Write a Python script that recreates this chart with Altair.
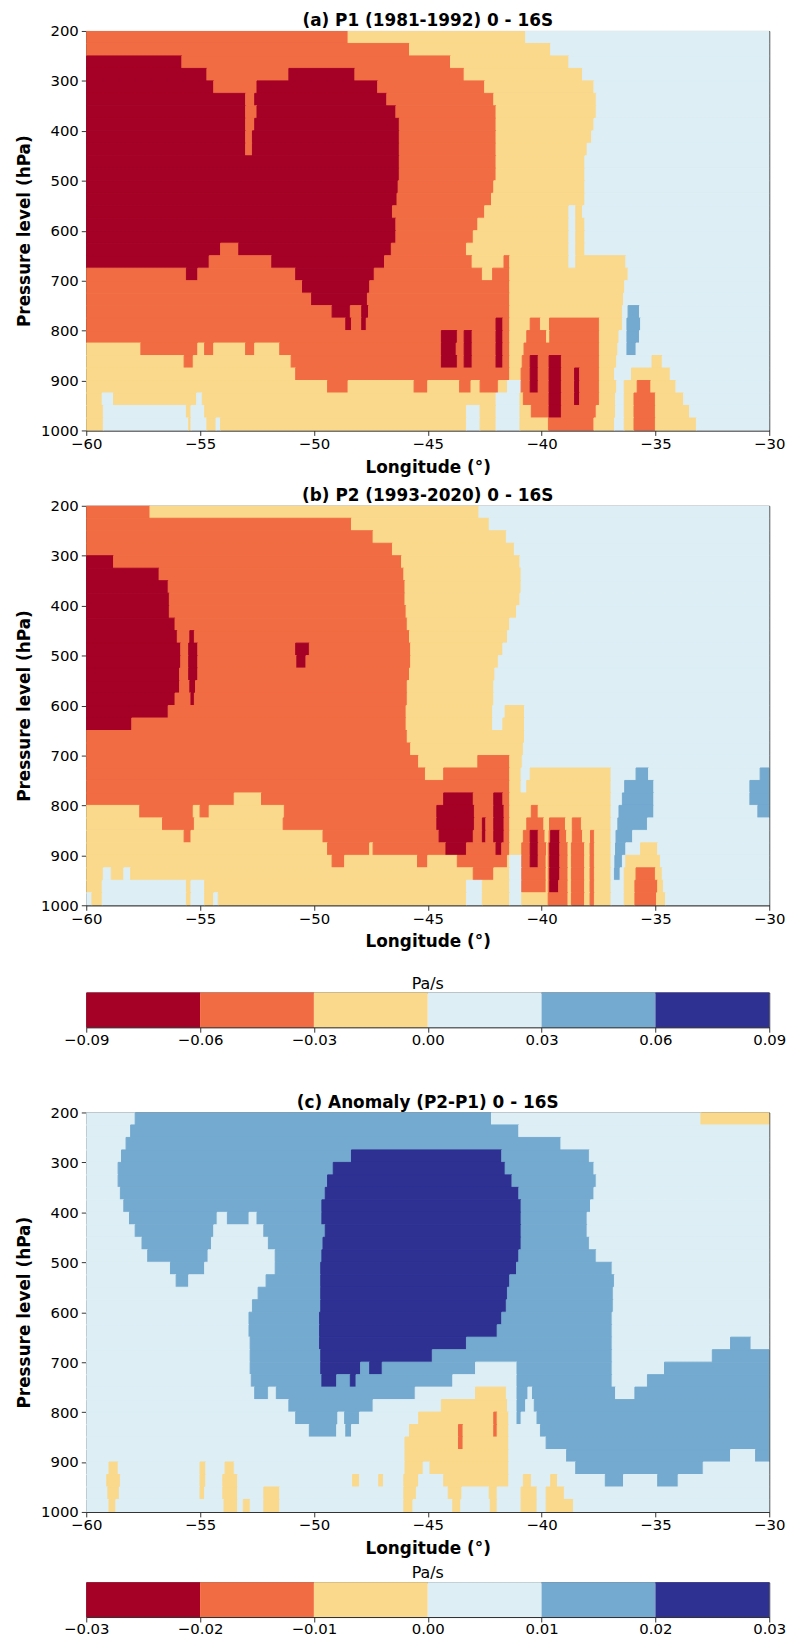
import altair as alt
import pandas as pd

LON = [-60, -30]
P_RANGE = [200, 1000]
ROW_STEP = 25
LON_TICKS = [-60, -55, -50, -45, -40, -35, -30]
P_TICKS = [200, 300, 400, 500, 600, 700, 800, 900, 1000]

LEVELS_P = [-0.09, -0.06, -0.03, 0.00, 0.03, 0.06, 0.09]
LEVELS_ANOM = [-0.03, -0.02, -0.01, 0.00, 0.01, 0.02, 0.03]
CLASS_KEYS = ["R", "O", "Y", "L", "B", "N"]
COLORS = ["#a50026", "#f16c43", "#fad98c", "#ddeef5", "#74aacf", "#2e3192"]

TITLES = ["(a) P1 (1981-1992) 0 - 16S", "(b) P2 (1993-2020) 0 - 16S",
          "(c) Anomaly (P2-P1) 0 - 16S"]

# each row = one 25 hPa layer (200-225, 225-250, ...); tokens = class letter + longitude where it starts
P1_ROWS = [
    "O-60 Y-48.5 L-40.7",
    "O-60 Y-45.8 L-39.6",
    "R-60 O-55.8 Y-44.0 L-38.8",
    "R-60 O-54.7 R-51.1 O-48.2 Y-43.4 L-38.2",
    "R-60 O-54.4 R-52.5 O-47.2 Y-42.5 L-37.7",
    "R-60 O-53.0 R-52.6 O-46.8 Y-42.1 L-37.6",
    "R-60 O-53.0 R-52.5 O-46.4 Y-42.0 L-37.6",
    "R-60 O-53.0 R-52.6 O-46.25 Y-42.0 L-37.7",
    "R-60 O-53.0 R-52.7 O-46.25 Y-42.0 L-37.8",
    "R-60 O-53.0 R-52.7 O-46.25 Y-42.0 L-38.0",
    "R-60 O-46.25 Y-42.0 L-38.1",
    "R-60 O-46.25 Y-42.0 L-38.1",
    "R-60 O-46.3 Y-42.1 L-38.1",
    "R-60 O-46.35 Y-42.2 L-38.1",
    "R-60 O-46.55 Y-42.5 L-38.8 Y-38.5 L-38.2",
    "R-60 O-46.4 Y-42.8 L-38.8 Y-38.5 L-38.1",
    "R-60 O-46.4 Y-43.0 L-38.8 Y-38.5 L-38.1",
    "R-60 O-54.1 R-53.3 O-46.6 Y-43.3 L-38.8 Y-38.5 L-38.1",
    "R-60 O-54.6 R-51.85 O-46.9 Y-43.05 O-41.65 Y-41.4 L-38.8 Y-38.5 L-36.3",
    "O-60 R-55.6 O-55.1 R-50.8 O-47.35 Y-42.6 O-42.15 Y-41.4 L-36.2",
    "O-60 R-50.5 O-47.55 Y-41.4 L-36.35",
    "O-60 R-50.1 O-47.65 Y-41.4 L-36.4",
    "O-60 R-49.2 O-48.4 R-47.9 O-47.6 Y-41.4 L-36.45 B-36.2 L-35.7",
    "O-60 R-48.6 O-48.35 R-47.9 O-47.7 R-42.0 O-41.7 Y-41.4 O-40.5 Y-40.05 O-39.65 Y-37.46 L-36.45 B-36.25 L-35.65",
    "O-60 R-44.4 O-43.7 R-43.4 O-43.05 R-42.0 O-41.7 Y-41.4 O-40.65 Y-39.78 O-39.64 Y-37.46 L-36.6 B-36.25 L-35.7",
    "Y-60 O-57.6 Y-55.1 O-54.8 Y-54.4 O-53.0 Y-52.6 O-51.5 R-44.4 O-43.75 R-43.4 O-43.05 R-42.0 O-41.7 Y-41.4 O-40.77 Y-37.46 L-36.65 B-36.25 L-35.85",
    "Y-60 O-55.7 Y-55.3 O-51.0 R-44.4 O-43.7 R-43.4 O-43.05 R-42.0 O-41.7 Y-41.4 O-40.85 R-40.5 O-40.15 R-39.67 O-39.13 Y-37.46 L-36.7 Y-35.15 L-34.7",
    "Y-60 O-50.8 Y-41.4 O-40.9 R-40.5 O-40.15 R-39.67 O-39.13 R-38.55 O-38.33 Y-37.46 L-36.8 Y-36.05 L-34.35",
    "Y-60 O-49.4 Y-48.5 O-45.6 Y-45.0 O-43.6 Y-43.1 O-42.7 Y-41.9 L-41.5 O-40.9 R-40.5 O-40.15 R-39.67 O-39.13 R-38.55 O-38.33 Y-37.46 L-36.7 Y-36.37 O-35.8 Y-35.2 L-34.1",
    "Y-60 L-59.3 Y-58.8 L-55.15 Y-54.9 L-42.0 Y-40.95 O-40.8 R-39.67 O-39.13 R-38.55 O-38.33 Y-37.46 L-36.75 Y-36.37 O-35.94 Y-35.0 L-33.76",
    "Y-60 L-59.25 Y-55.6 L-55.4 Y-54.8 L-43.3 Y-42.7 L-42.0 Y-40.95 O-40.45 R-39.67 O-39.13 Y-37.6 L-36.75 Y-36.37 O-35.94 Y-35.0 L-33.5",
    "Y-60 L-59.25 Y-55.5 L-55.4 Y-54.7 L-54.3 Y-54.1 L-43.3 Y-42.7 L-42.0 Y-40.95 O-39.7 Y-37.7 L-36.8 Y-36.37 O-35.94 Y-35.0 L-33.2",
]

P2_ROWS = [
    "O-60 Y-57.2 L-42.75",
    "O-60 Y-48.35 L-42.3",
    "O-60 Y-47.4 L-41.55",
    "O-60 Y-46.55 L-41.2",
    "R-60 O-58.8 Y-46.15 L-40.95",
    "R-60 O-56.8 Y-46.05 L-40.9",
    "R-60 O-56.4 Y-46.0 L-40.9",
    "R-60 O-56.35 Y-46.0 L-40.95",
    "R-60 O-56.35 Y-45.95 L-41.1",
    "R-60 O-56.1 Y-45.9 L-41.4",
    "R-60 O-56.0 R-55.45 O-55.25 Y-45.8 L-41.5",
    "R-60 O-55.85 R-55.5 O-55.1 R-50.8 O-50.2 Y-45.75 L-41.7",
    "R-60 O-55.85 R-55.5 O-55.1 R-50.75 O-50.35 Y-45.75 L-41.9",
    "R-60 O-55.9 R-55.5 O-55.1 Y-45.8 L-42.05",
    "R-60 O-55.9 R-55.45 O-55.2 Y-45.9 L-42.1",
    "R-60 O-56.1 R-55.4 O-55.25 Y-45.9 L-42.1",
    "R-60 O-56.4 Y-45.95 L-42.15 Y-41.6 L-40.75",
    "R-60 O-58.0 Y-45.95 L-42.15 Y-41.7 L-40.75",
    "O-60 Y-45.9 L-40.75",
    "O-60 Y-45.75 L-40.8",
    "O-60 Y-45.4 O-42.8 Y-41.4 L-40.85",
    "O-60 Y-45.1 O-44.3 Y-41.4 L-40.9 Y-40.5 L-36.95 B-35.85 L-35.3 B-30.4",
    "O-60 Y-41.4 L-40.9 Y-40.65 L-36.95 B-36.35 L-35.07 B-30.85",
    "O-60 Y-53.5 O-52.3 R-44.3 O-43.0 R-42.1 O-41.7 Y-41.4 L-36.95 B-36.45 L-35.07 B-30.85",
    "Y-60 O-57.65 Y-55.3 O-55.0 Y-54.6 O-51.3 R-44.6 O-42.95 R-42.1 O-41.65 Y-41.4 O-40.45 Y-40.15 L-36.95 B-36.6 L-35.07 B-30.5",
    "Y-60 O-56.65 Y-55.25 O-51.35 R-44.6 O-42.95 R-42.6 O-42.45 R-42.1 O-41.65 Y-41.4 O-40.65 Y-39.9 O-39.65 Y-38.95 O-38.65 Y-38.25 L-36.95 B-36.65 L-35.35",
    "Y-60 O-55.7 Y-55.4 O-49.6 R-44.5 O-43.0 R-42.6 O-42.45 R-42.1 O-41.65 Y-41.4 O-40.8 R-40.5 O-40.15 Y-39.85 O-39.67 R-39.6 O-39.2 Y-38.9 O-38.65 Y-38.2 O-37.85 Y-37.68 L-36.95 B-36.73 L-36.0",
    "Y-60 O-49.4 Y-47.55 O-47.4 R-44.2 O-43.3 R-42.0 O-41.75 Y-41.4 O-40.87 R-40.5 O-40.15 Y-39.78 O-39.71 R-39.64 O-39.2 Y-38.84 O-38.69 Y-38.11 O-37.87 Y-37.68 L-36.95 B-36.75 L-36.3 Y-35.65 L-34.9",
    "Y-60 O-49.2 Y-48.65 O-45.45 Y-45.0 O-43.7 Y-41.5 L-41.4 O-40.87 R-40.5 O-40.15 Y-39.8 O-39.71 R-39.64 O-39.2 Y-38.84 O-38.69 Y-38.11 O-37.87 Y-37.68 L-36.95 B-36.78 L-36.45 Y-36.3 L-34.78",
    "Y-60 L-59.25 Y-58.9 L-58.35 Y-58.05 O-43.0 Y-42.1 L-41.4 O-40.87 Y-39.8 O-39.71 R-39.64 O-39.2 Y-38.84 O-38.69 Y-38.11 O-37.87 Y-37.68 L-36.95 B-36.8 L-36.55 Y-36.37 O-35.85 Y-35.0 L-34.7",
    "Y-60 L-59.3 Y-55.6 L-55.4 Y-54.8 L-43.3 Y-42.6 L-41.4 O-40.87 Y-39.8 O-39.71 R-39.64 O-39.25 Y-38.84 O-38.69 Y-38.11 O-37.87 Y-37.68 L-36.95 Y-36.37 O-35.9 Y-34.9 L-34.65",
    "L-60 Y-59.75 L-59.3 Y-55.6 L-55.4 Y-54.8 L-54.4 Y-54.2 L-43.3 Y-42.6 L-41.4 Y-40.87 O-39.71 Y-38.84 O-38.69 Y-38.11 O-37.87 Y-37.68 L-36.95 Y-36.37 O-35.9 Y-34.95 L-34.56",
]

ANOM_ROWS = [
    "L-60 B-57.85 L-42.2 Y-33.0",
    "L-60 B-58.05 L-41.0",
    "L-60 B-58.25 L-39.15",
    "L-60 B-58.45 N-48.35 B-41.75 L-37.9",
    "L-60 B-58.6 N-49.15 B-41.6 L-37.7",
    "L-60 B-58.6 N-49.4 B-41.3 L-37.6",
    "L-60 B-58.5 N-49.5 B-41.0 L-37.7",
    "L-60 B-58.35 N-49.65 B-40.9 L-37.85",
    "L-60 B-58.1 L-54.25 B-53.8 L-52.85 B-52.5 N-49.65 B-40.9 L-38.0",
    "L-60 B-57.85 L-54.4 B-52.2 N-49.5 B-40.9 L-38.0",
    "L-60 B-57.55 L-54.5 B-52.0 N-49.6 B-40.9 L-37.9",
    "L-60 B-57.3 L-54.65 B-51.7 N-49.65 B-41.0 L-37.6",
    "L-60 B-56.3 L-54.8 B-51.7 N-49.7 B-41.1 L-36.9",
    "L-60 B-56.05 L-55.5 B-52.1 N-49.7 B-41.4 L-36.8",
    "L-60 B-52.45 N-49.7 B-41.5 L-36.85",
    "L-60 B-52.7 N-49.7 B-41.55 L-36.85",
    "L-60 B-52.85 N-49.75 B-41.75 L-36.9",
    "L-60 B-52.85 N-49.75 B-41.95 L-36.9",
    "L-60 B-52.8 N-49.75 B-43.3 L-36.9 B-31.7 L-30.8",
    "L-60 B-52.8 N-49.7 B-44.8 L-36.9 B-32.5",
    "L-60 B-52.8 N-49.7 B-47.95 N-47.55 B-47.0 L-42.9 B-41.08 L-36.9 B-34.6",
    "L-60 B-52.75 N-49.65 B-49.0 N-48.4 B-48.15 L-43.9 B-41.08 L-36.9 B-35.35",
    "L-60 B-52.6 L-52.0 B-51.65 L-45.55 Y-42.9 L-41.55 B-41.08 L-40.6 B-40.4 L-36.75 B-35.9",
    "L-60 B-51.1 L-47.4 Y-44.4 L-41.5 B-41.08 L-40.7 B-40.32",
    "L-60 B-50.8 L-48.95 B-48.65 L-48.0 Y-45.4 O-42.1 Y-41.95 L-41.44 B-41.08 L-40.9 B-40.2",
    "L-60 B-50.2 L-49.0 B-48.6 L-48.35 Y-45.8 O-43.65 Y-43.45 O-42.1 Y-41.95 L-41.44 B-40.05",
    "L-60 Y-46.0 O-43.65 Y-43.45 L-41.44 B-39.8",
    "L-60 Y-46.0 L-41.44 B-38.9 L-31.7 B-30.6",
    "L-60 Y-59.0 L-58.6 Y-55.0 L-54.75 Y-53.9 L-53.5 Y-46.0 L-45.2 Y-44.9 L-41.44 B-38.5 L-32.9",
    "L-60 Y-59.1 L-58.5 Y-55.0 L-54.75 Y-54.0 L-53.35 Y-48.3 L-48.0 Y-47.15 L-46.95 Y-46.05 L-45.4 Y-44.3 L-41.44 Y-40.8 L-40.45 Y-39.6 L-39.3 B-37.2 L-36.4 B-34.9 L-34.0",
    "L-60 Y-59.05 L-58.55 Y-55.0 L-54.8 Y-54.0 L-53.35 Y-52.2 L-51.5 Y-46.05 L-45.5 Y-44.1 L-43.5 Y-42.3 L-41.95 Y-40.9 L-40.2 Y-39.8 L-39.0",
    "L-60 Y-59.0 L-58.7 Y-53.95 L-53.35 Y-53.1 L-52.8 Y-52.2 L-51.5 Y-46.05 L-45.65 Y-43.9 L-43.55 Y-42.25 L-41.95 Y-40.9 L-40.2 Y-39.8 L-38.6",
]

FONT = "DejaVu Sans"
PLOT_W = 689
PLOT_H = 403
FRAME = alt.ViewBackground(stroke="#333", strokeWidth=1)


def build_cells(rows, levels):
    mids = [(a + b) / 2 for a, b in zip(levels[:-1], levels[1:])]
    out = []
    for i, row in enumerate(rows):
        p0 = P_RANGE[0] + i * ROW_STEP
        toks = [(t[0], float(t[1:])) for t in row.split()]
        for j, (k, l0) in enumerate(toks):
            l1 = toks[j + 1][1] if j + 1 < len(toks) else LON[1]
            if l1 > l0:
                out.append({"lon0": l0, "lon1": l1, "p0": p0, "p1": p0 + ROW_STEP,
                            "w": mids[CLASS_KEYS.index(k)]})
    return pd.DataFrame(out)


def panel(rows, levels, title):
    df = build_cells(rows, levels)
    cscale = alt.Scale(type="threshold", domain=levels[1:-1], range=COLORS)
    return alt.Chart(df).mark_rect(strokeWidth=1.0, clip=True).encode(
        x=alt.X("lon0:Q", scale=alt.Scale(domain=LON, nice=False, zero=False),
                axis=alt.Axis(values=LON_TICKS, format="d", title="Longitude (°)",
                              labelPadding=1, titlePadding=8)),
        x2="lon1:Q",
        y=alt.Y("p0:Q", scale=alt.Scale(domain=P_RANGE, reverse=True, nice=False, zero=False),
                axis=alt.Axis(values=P_TICKS, format="d", title="Pressure level (hPa)",
                              labelPadding=3, titlePadding=7)),
        y2="p1:Q",
        color=alt.Color("w:Q", scale=cscale, legend=None),
        stroke=alt.Stroke("w:Q", scale=cscale, legend=None),
    ).properties(width=PLOT_W, height=PLOT_H, view=FRAME,
                 title=alt.TitleParams(title, font=FONT, fontSize=17, fontWeight="bold",
                                       color="black", offset=-6))


def colorbar(levels):
    df = pd.DataFrame({"lo": levels[:-1], "hi": levels[1:]})
    df["w"] = (df["lo"] + df["hi"]) / 2
    df["b0"] = 0.0
    df["b1"] = 1.0
    return alt.Chart(df).mark_rect().encode(
        x=alt.X("lo:Q", scale=alt.Scale(domain=[levels[0], levels[-1]], nice=False, zero=False),
                axis=alt.Axis(values=levels, format=".2f", title=None, labelPadding=0)),
        x2="hi:Q",
        y=alt.Y("b0:Q", scale=alt.Scale(domain=[0, 1]), axis=None),
        y2="b1:Q",
        color=alt.Color("w:Q", scale=alt.Scale(type="threshold", domain=levels[1:-1], range=COLORS),
                        legend=None),
    ).properties(width=PLOT_W, height=35, view=FRAME,
                 title=alt.TitleParams("Pa/s", font=FONT, fontSize=16, fontWeight="normal",
                                       color="black", offset=1))


def spacer(h):
    d = pd.DataFrame({"s": [0.0]})
    return alt.Chart(d).mark_point(opacity=0).encode(
        x=alt.X("s:Q", axis=None), y=alt.Y("s:Q", axis=None)
    ).properties(width=PLOT_W, height=h, view=alt.ViewBackground(stroke=None))


pa = panel(P1_ROWS, LEVELS_P, TITLES[0])
pb = panel(P2_ROWS, LEVELS_P, TITLES[1])
pc = panel(ANOM_ROWS, LEVELS_ANOM, TITLES[2])
cb1 = colorbar(LEVELS_P)
cb2 = colorbar(LEVELS_ANOM)

chart = alt.vconcat(
    pa, spacer(76), pb, spacer(88), cb1, spacer(86), pc, spacer(71), cb2,
    spacing=0, bounds="flush",
).resolve_scale(
    x="independent", y="independent", color="independent", stroke="independent"
).properties(
    padding={"left": 15, "top": 4, "right": 10, "bottom": 2}
).configure_axis(
    labelFont=FONT, labelFontSize=15, labelColor="black", labelFlush=False, labelOverlap=False,
    titleFont=FONT, titleFontSize=17, titleFontWeight="bold", titleColor="black",
    tickColor="#333", domainColor="#333", tickSize=5, grid=False,
).configure_view(stroke=None).configure_title(anchor="middle")

chart.save("out.html", embed_options={"renderer": "svg", "actions": False})
